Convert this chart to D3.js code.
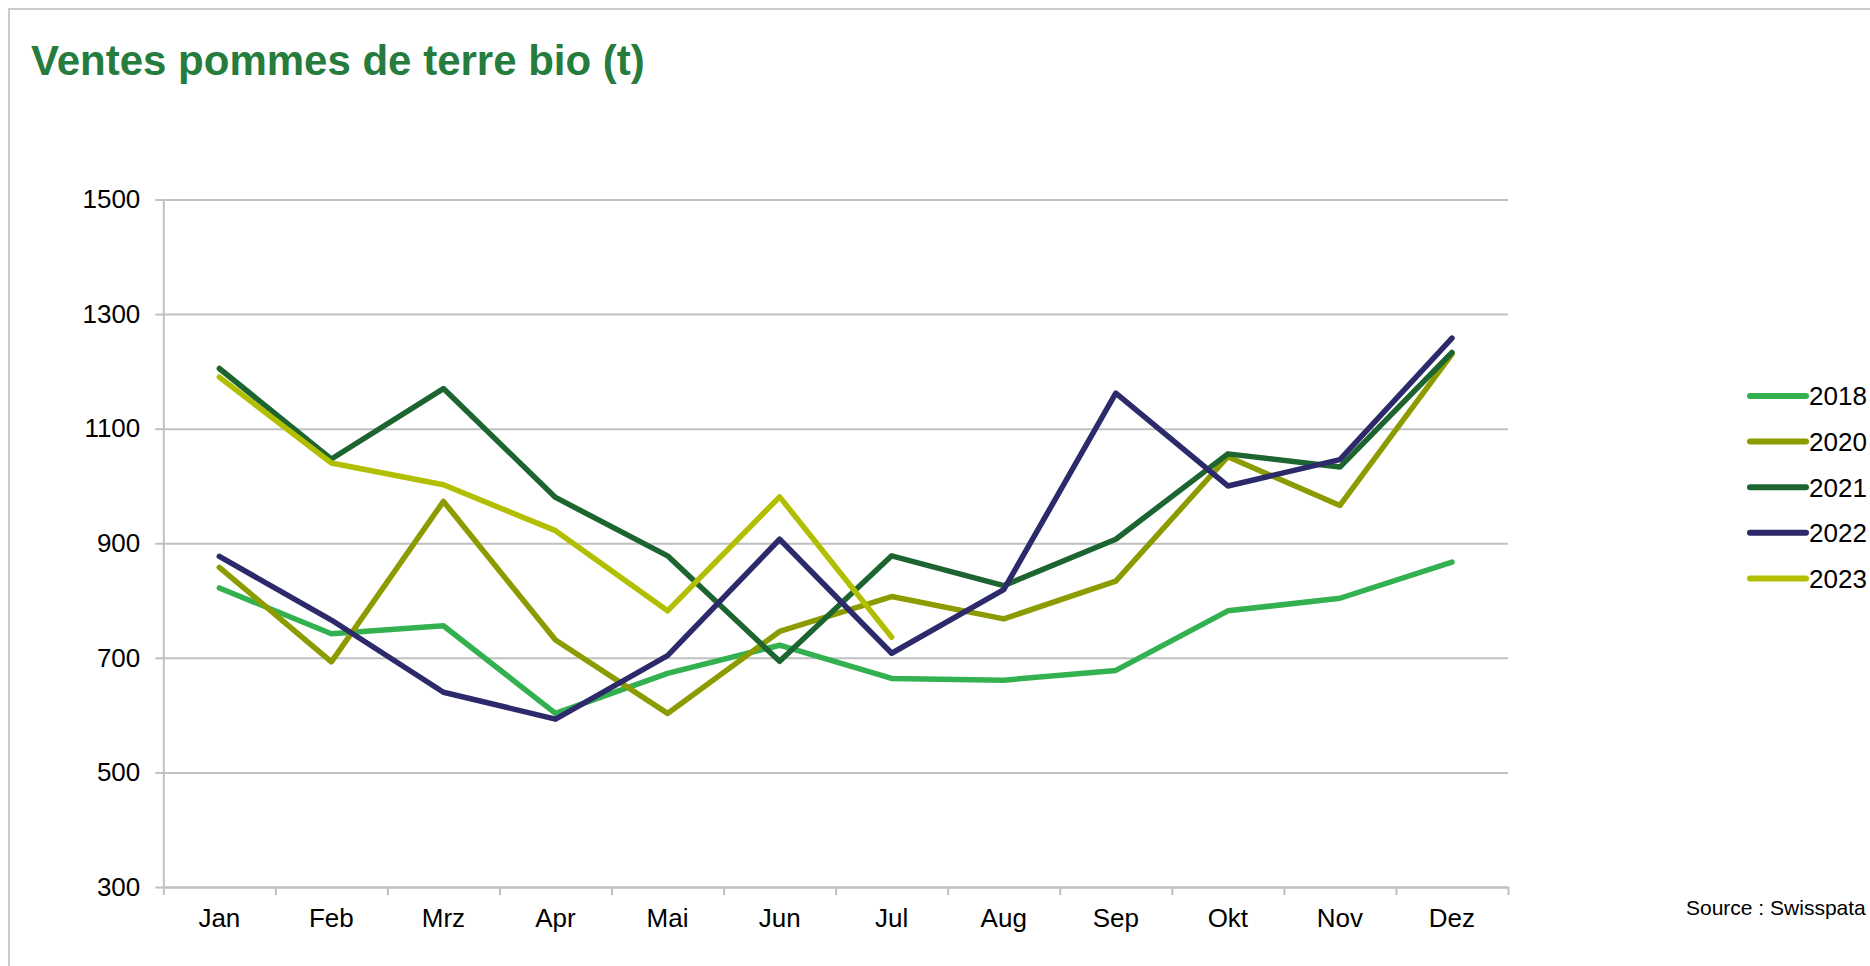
<!DOCTYPE html>
<html>
<head>
<meta charset="utf-8">
<script src="https://cdn.jsdelivr.net/npm/d3@7"></script>
<style>
  html, body { margin: 0; padding: 0; background: #fff; overflow: hidden; }
  text { font-family: "Liberation Sans", Arial, sans-serif; }
</style>
</head>
<body>
<div id="chart"></div>
<script>
// months (category axis)
const months = ["Jan", "Feb", "Mrz", "Apr", "Mai", "Jun", "Jul", "Aug", "Sep", "Okt", "Nov", "Dez"];

// sales in tonnes
const s2018 = [822, 742, 756, 603, 673, 722, 664, 661, 678, 782, 804, 867];
const s2020 = [858, 693, 973, 731, 603, 746, 807, 768, 834, 1051, 966, 1230];
const s2021 = [1205, 1047, 1170, 980, 878, 694, 878, 826, 907, 1056, 1033, 1233];
const s2022 = [877, 766, 640, 593, 704, 907, 708, 819, 1162, 1000, 1046, 1258];
const s2023 = [1190, 1040, 1002, 922, 782, 981, 736];

const yTicks = [300, 500, 700, 900, 1100, 1300, 1500];

const series = [
    { name: "2018", values: s2018, color: "#33b150" },
    { name: "2020", values: s2020, color: "#8c9b00" },
    { name: "2021", values: s2021, color: "#1d6530" },
    { name: "2022", values: s2022, color: "#2d2a6b" },
    { name: "2023", values: s2023, color: "#b2bf00" }
];

const W = 1870, H = 966;
const plot = { left: 163.3, right: 1508, top: 199.5, bottom: 887 };

const svg = d3.select("#chart").append("svg")
    .attr("width", W)
    .attr("height", H);

// outer frame
svg.append("rect")
    .attr("x", 9).attr("y", 9)
    .attr("width", 1900).attr("height", 1000)
    .attr("fill", "none")
    .attr("stroke", "#cacaca")
    .attr("stroke-width", 2);

svg.append("text")
    .attr("x", 31).attr("y", 75)
    .attr("font-size", 42)
    .attr("font-weight", "bold")
    .attr("fill", "#267c3c")
    .text("Ventes pommes de terre bio (t)");

const x = d3.scaleBand()
    .domain(months)
    .range([plot.left, plot.right])
    .padding(0);

const xEdge = d3.scaleLinear()
    .domain([0, months.length])
    .range([plot.left, plot.right]);

const y = d3.scaleLinear()
    .domain([300, 1500])
    .range([plot.bottom, plot.top]);

const gridColor = "#c0c0c0";

// horizontal gridlines
const grid = svg.append("g")
    .attr("transform", `translate(${plot.left},0)`)
    .call(d3.axisRight(y).tickValues(yTicks).tickSize(plot.right - plot.left).tickFormat(""));
grid.select(".domain").remove();
grid.selectAll("line").attr("stroke", gridColor).attr("stroke-width", 2);

// y axis with labels
const yAxis = svg.append("g")
    .attr("transform", `translate(${plot.left},0)`)
    .call(d3.axisLeft(y).tickValues(yTicks).tickFormat(d3.format("d"))
        .tickSize(8).tickPadding(15).tickSizeOuter(0));
yAxis.select(".domain").attr("stroke", gridColor).attr("stroke-width", 2);
yAxis.selectAll("line").attr("stroke", gridColor).attr("stroke-width", 2);
yAxis.selectAll("text").attr("font-size", 26).attr("fill", "#000")
    .style("font-family", "'Liberation Sans', Arial, sans-serif");

// x axis: ticks between categories
const xTicks = svg.append("g")
    .attr("transform", `translate(0,${plot.bottom})`)
    .call(d3.axisBottom(xEdge).ticks(months.length).tickSize(8).tickFormat("").tickSizeOuter(0));
xTicks.select(".domain").attr("stroke", gridColor).attr("stroke-width", 2);
xTicks.selectAll("line").attr("stroke", gridColor).attr("stroke-width", 2);

// x axis: labels centred on categories
const xLabels = svg.append("g")
    .attr("transform", `translate(0,${plot.bottom})`)
    .call(d3.axisBottom(x).tickSize(0).tickPadding(22));
xLabels.select(".domain").remove();
xLabels.selectAll("text").attr("font-size", 26).attr("fill", "#000")
    .style("font-family", "'Liberation Sans', Arial, sans-serif");

const line = d3.line()
    .x((d, i) => x(months[i]) + x.bandwidth() / 2)
    .y(d => y(d));

svg.append("g").selectAll("path")
    .data(series)
    .join("path")
    .attr("d", d => line(d.values))
    .attr("fill", "none")
    .attr("stroke", d => d.color)
    .attr("stroke-width", 5.5)
    .attr("stroke-linejoin", "round")
    .attr("stroke-linecap", "round");

// legend
const legend = svg.append("g").attr("transform", "translate(1750,396)");
const item = legend.selectAll("g")
    .data(series)
    .join("g")
    .attr("transform", (d, i) => `translate(0,${i * 45.6})`);
item.append("line")
    .attr("x1", 0).attr("x2", 56)
    .attr("stroke", d => d.color)
    .attr("stroke-width", 6)
    .attr("stroke-linecap", "round");
item.append("text")
    .attr("x", 59)
    .attr("dy", "0.36em")
    .attr("font-size", 26)
    .text(d => d.name);

svg.append("text")
    .attr("x", 1686).attr("y", 915)
    .attr("font-size", 21)
    .text("Source : Swisspata");
</script>
</body>
</html>
